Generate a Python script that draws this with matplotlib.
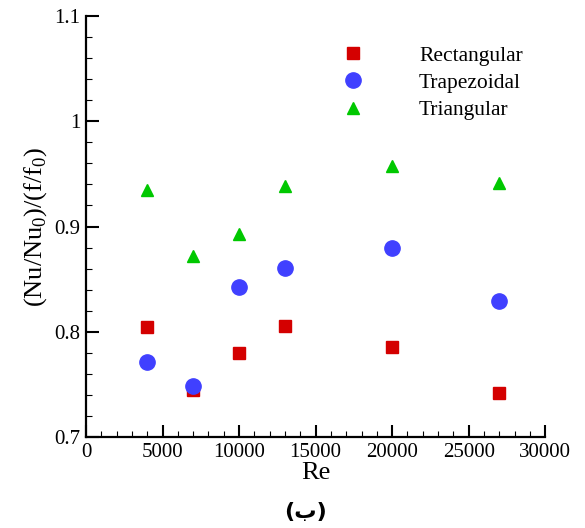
import matplotlib
matplotlib.use("Agg")
import matplotlib.pyplot as plt
from matplotlib.ticker import MultipleLocator

re_vals = [4000, 7000, 10000, 13000, 20000, 27000]
rect = [0.805, 0.745, 0.780, 0.806, 0.786, 0.742]
trap = [0.771, 0.749, 0.843, 0.861, 0.880, 0.829]
tri = [0.935, 0.872, 0.893, 0.938, 0.957, 0.941]
x_ticks = [0, 5000, 10000, 15000, 20000, 25000, 30000]
y_ticks = [0.7, 0.8, 0.9, 1.0, 1.1]
y_tick_labels = ["0.7", "0.8", "0.9", "1", "1.1"]

plt.rcParams['font.family'] = ['Liberation Serif', 'DejaVu Serif']
plt.rcParams['mathtext.fontset'] = 'custom'
plt.rcParams['mathtext.rm'] = 'Liberation Serif'

fig = plt.figure(figsize=(5.85, 5.28), dpi=100)
ax = fig.add_axes([0.147, 0.172, 0.785, 0.798])

ax.plot(re_vals, rect, linestyle='none', marker='s', markersize=8, color='#d40000', label='Rectangular')
ax.plot(re_vals, trap, linestyle='none', marker='o', markersize=11, color='#4040ff', label='Trapezoidal')
ax.plot(re_vals, tri, linestyle='none', marker='^', markersize=9, color='#00c800', label='Triangular')

ax.set_xlim(0, 30000)
ax.set_ylim(0.7, 1.1)
ax.set_xticks(x_ticks)
ax.set_xticklabels([str(v) for v in x_ticks])
ax.set_yticks(y_ticks)
ax.set_yticklabels(y_tick_labels)
ax.xaxis.set_minor_locator(MultipleLocator(1000))
ax.yaxis.set_minor_locator(MultipleLocator(0.02))
ax.tick_params(which='major', direction='in', length=9, width=1.5, labelsize=15, pad=4)
ax.tick_params(which='minor', direction='in', length=4.5, width=0.8)
for s in ['top', 'right']:
    ax.spines[s].set_visible(False)
for s in ['left', 'bottom']:
    ax.spines[s].set_linewidth(1.6)

ax.set_xlabel('Re', fontsize=19, labelpad=0)
ax.set_ylabel(r'(Nu/Nu$_0$)/(f/f$_0$)', fontsize=19, labelpad=4)

leg = ax.legend(loc='upper left', bbox_to_anchor=(0.505, 0.975), frameon=False,
                fontsize=15.5, handletextpad=2.3, labelspacing=0.33, handlelength=1.5)

fig.text(0.522, 0.012, '(ب)', fontsize=16, fontweight='bold', family=['DejaVu Sans'],
         ha='center', va='bottom')

fig.savefig('out.png', dpi=100)
